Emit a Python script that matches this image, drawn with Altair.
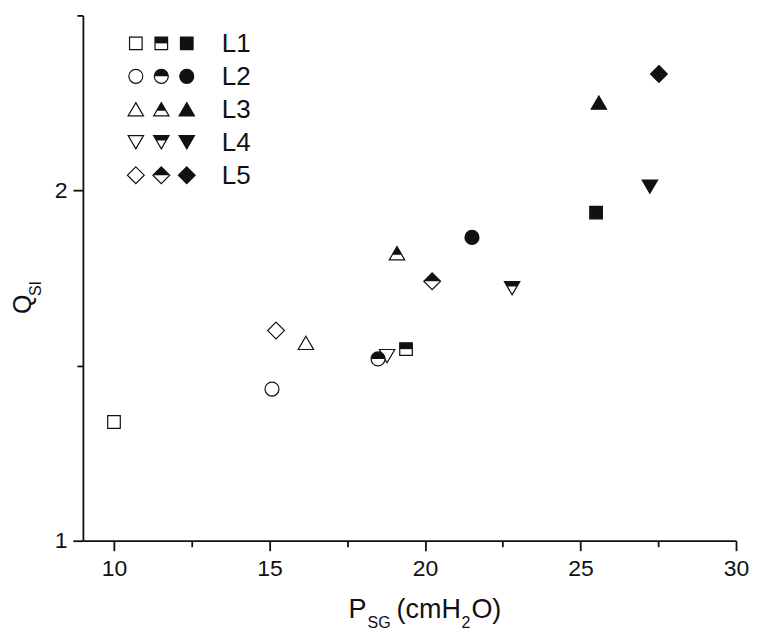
import altair as alt
import pandas as pd

# ---------------- data ----------------
levels = ["L1", "L2", "L3", "L4", "L5"]
states = ["open", "half", "full"]

psg_open = [10.0, 15.08, 16.17, 18.78, 15.21]
qsi_open = [1.339, 1.433, 1.565, 1.527, 1.600]
psg_half = [19.39, 18.49, 19.10, 22.80, 20.23]
qsi_half = [1.547, 1.519, 1.821, 1.721, 1.741]
psg_full = [25.50, 21.51, 25.59, 27.23, 27.52]
qsi_full = [1.937, 1.866, 2.251, 2.011, 2.333]

x_ticks = [10, 12.5, 15, 17.5, 20, 22.5, 25, 27.5, 30]
y_ticks = [1, 1.5, 2, 2.5]

# ---------------- layout ----------------
X_DOM = [9, 30]
Y_DOM = [1, 2.5]
W, H = 654, 526
FONT = "Liberation Sans, Arial, sans-serif"
INK = "#111111"

outline_paths = [
    "M-0.9,-0.9H0.9V0.9H-0.9Z",
    "M-1,0A1,1,0,1,1,1,0A1,1,0,1,1,-1,0Z",
    "M0,-0.95L1.1,0.95L-1.1,0.95Z",
    "M0,0.95L1.1,-0.95L-1.1,-0.95Z",
    "M0,-1.2L1.2,0L0,1.2L-1.2,0Z",
]
top_paths = [
    "M-0.9,-0.9H0.9V0H-0.9Z",
    "M-1,0A1,1,0,0,1,1,0Z",
    "M0,-0.95L0.68,0.22L-0.68,0.22Z",
    "M-1.1,-0.95L1.1,-0.95L0.69,-0.24L-0.69,-0.24Z",
    "M0,-1.2L1.2,0L-1.2,0Z",
]

rows = []
for st, xs_, ys_ in [("open", psg_open, qsi_open),
                     ("half", psg_half, qsi_half),
                     ("full", psg_full, qsi_full)]:
    for lv, xv, yv in zip(levels, xs_, ys_):
        rows.append(dict(level=lv, state=st, psg=xv, qsi=yv))
df = pd.DataFrame(rows)

# legend positions (pixel offsets in plot area converted to data units)
def px2x(px):
    return X_DOM[0] + px / W * (X_DOM[1] - X_DOM[0])

def py2y(py):
    return Y_DOM[1] - py / H * (Y_DOM[1] - Y_DOM[0])

leg_rows = []
for r, lv in enumerate(levels):
    for c, st in enumerate(states):
        leg_rows.append(dict(level=lv, state=st,
                             psg=px2x(53 + 25.5 * c), qsi=py2y(28 + 33 * r)))
leg = pd.DataFrame(leg_rows)
leg_txt = pd.DataFrame({"label": levels,
                        "psg": [px2x(139)] * 5,
                        "qsi": [py2y(29 + 33 * r) for r in range(5)]})

allpts = pd.concat([df, leg], ignore_index=True)

x_enc = alt.X(
    "psg:Q",
    scale=alt.Scale(domain=X_DOM, nice=False, zero=False),
    axis=alt.Axis(
        values=x_ticks, title=None, grid=False,
        labelExpr="datum.value % 5 == 0 ? format(datum.value, 'd') : ''",
        tickSize={"condition": {"test": "datum.value % 5 == 0", "value": 10}, "value": 6},
        labelPadding=7, labelFlush=False,
    ),
)
y_enc = alt.Y(
    "qsi:Q",
    scale=alt.Scale(domain=Y_DOM, nice=False, zero=False),
    axis=alt.Axis(
        values=y_ticks, title=None, grid=False,
        labelExpr="datum.value % 1 == 0 ? format(datum.value, 'd') : ''",
        tickSize={"condition": {"test": "datum.value % 1 == 0", "value": 10}, "value": 6},
        labelPadding=6, labelFlush=False,
    ),
)

outline = alt.Chart(allpts).mark_point(
    filled=True, size=196, stroke=INK, strokeWidth=1.2, opacity=1
).encode(
    x=x_enc, y=y_enc,
    shape=alt.Shape("level:N", scale=alt.Scale(domain=levels, range=outline_paths), legend=None),
    fill=alt.Fill("state:N", scale=alt.Scale(domain=states, range=["white", "white", INK]), legend=None),
)

tops = alt.Chart(allpts).transform_filter("datum.state == 'half'").mark_point(
    filled=True, size=196, fill=INK, strokeWidth=0, opacity=1
).encode(
    x=alt.X("psg:Q"), y=alt.Y("qsi:Q"),
    shape=alt.Shape("level:N", scale=alt.Scale(domain=levels, range=top_paths), legend=None),
)

legend_text = alt.Chart(leg_txt).mark_text(
    align="left", baseline="middle", font=FONT, fontSize=26, color=INK
).encode(x=alt.X("psg:Q"), y=alt.Y("qsi:Q"), text="label:N")

# axis titles with subscripts (pixel positions relative to plot origin)
OX, OY = 83, 15

def txt(t, x, y, size, angle=0, baseline="alphabetic"):
    return alt.Chart(pd.DataFrame({"t": [t]})).mark_text(
        align="left", baseline=baseline, font=FONT, fontSize=size,
        color=INK, angle=angle
    ).encode(text="t:N", x=alt.value(x - OX), y=alt.value(y - OY))

titles = [
    txt("P", 349, 618, 27),
    txt("SG", 368, 628, 16),
    txt("(cmH", 397, 618, 27),
    txt("2", 462, 628, 16),
    txt("O)", 472, 618, 27),
    txt("Q", 31, 314, 25, angle=270),
    txt("SI", 41, 296, 16, angle=270),
]

chart = alt.layer(outline, tops, legend_text, *titles).resolve_scale(
    shape="independent"
).properties(
    width=W, height=H,
    background="white",
    autosize=alt.AutoSizeParams(type="none"),
    padding={"left": OX - 8, "top": OY - 8, "right": 18, "bottom": 90},
).configure_view(stroke=None).configure_axis(
    domainColor=INK, domainWidth=1.8, tickColor=INK, tickWidth=1.8,
    labelColor=INK, labelFont=FONT, labelFontSize=23,
)

chart.save("out.html", embed_options={"renderer": "svg", "actions": False})
